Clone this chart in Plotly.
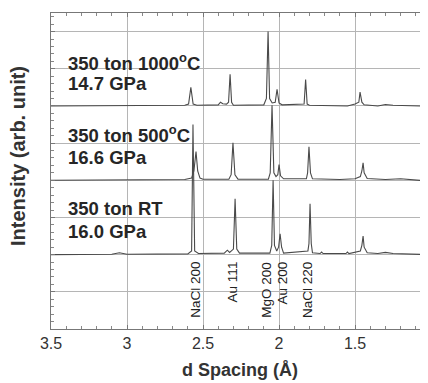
import plotly.graph_objects as go

# ---- data (d spacing in Å, intensity in chart units) ----
d_1000 = [3.50, 2.62, 2.595, 2.58, 2.565, 2.54, 2.40, 2.385, 2.37, 2.345, 2.332, 2.322, 2.312,
          2.30, 2.10, 2.083, 2.072, 2.062, 2.045, 2.025, 2.013, 2.00, 1.98, 1.835, 1.825,
          1.815, 1.80, 1.55, 1.50, 1.475, 1.467, 1.455, 1.44, 1.35, 1.30, 1.25, 1.02]
i_1000 = [6.00, 6.02, 6.05, 6.50, 6.05, 6.02, 6.03, 6.10, 6.06, 6.05, 6.10, 6.85, 6.10,
          6.02, 6.03, 6.20, 8.00, 6.20, 6.08, 6.10, 6.45, 6.08, 6.03, 6.05, 6.71,
          6.05, 6.02, 6.00, 6.05, 6.10, 6.37, 6.10, 6.03, 6.00, 6.04, 6.02, 5.99]

d_500 = [3.50, 3.00, 2.62, 2.575, 2.56, 2.546, 2.535, 2.52, 2.50, 2.33, 2.315, 2.303, 2.29,
         2.27, 2.07, 2.058, 2.046, 2.034, 2.02, 2.008, 2.00, 1.99, 1.97, 1.82, 1.812,
         1.803, 1.793, 1.78, 1.60, 1.50, 1.465, 1.455, 1.447, 1.44, 1.42, 1.30, 1.20, 1.02]
i_500 = [4.00, 4.02, 4.02, 4.06, 4.25, 4.77, 4.25, 4.06, 4.03, 4.03, 4.15, 5.01, 4.15,
         4.03, 4.03, 4.20, 6.02, 4.20, 4.10, 4.15, 4.42, 4.12, 4.04, 4.04, 4.20,
         4.90, 4.20, 4.04, 4.02, 4.04, 4.10, 4.25, 4.47, 4.20, 4.05, 4.02, 4.04, 3.98]

d_rt = [3.50, 3.10, 3.05, 3.00, 2.60, 2.575, 2.566, 2.555, 2.53, 2.36, 2.34, 2.325, 2.30,
        2.289, 2.278, 2.26, 2.06, 2.048, 2.039, 2.030, 2.015, 2.003, 1.993, 1.983, 1.97,
        1.81, 1.803, 1.796, 1.788, 1.78, 1.73, 1.72, 1.71, 1.56, 1.55, 1.54, 1.465, 1.455,
        1.447, 1.44, 1.42, 1.35, 1.30, 1.25, 1.02]
i_rt = [2.00, 2.01, 2.05, 2.01, 2.02, 2.10, 5.50, 2.10, 2.03, 2.04, 2.12, 2.06, 2.15,
        3.50, 2.15, 2.04, 2.04, 2.25, 4.00, 2.25, 2.10, 2.20, 2.56, 2.20, 2.04,
        2.10, 2.30, 3.37, 2.30, 2.05, 2.03, 2.07, 2.03, 2.03, 2.07, 2.03, 2.10, 2.25,
        2.50, 2.20, 2.05, 2.03, 2.06, 2.03, 2.00]

peak_labels = ["NaCl 200", "Au 111", "MgO 200", "Au 200", "NaCl 220"]
peak_label_d = [2.546, 2.309, 2.079, 1.980, 1.809]

sample_lines = [["350 ton 1000<sup>o</sup>C", "14.7 GPa"],
                ["350 ton 500<sup>o</sup>C", "16.6 GPa"],
                ["350 ton RT", "16.0 GPa"]]
sample_line_y = [[7.17, 6.60], [5.24, 4.62], [3.24, 2.62]]

FONT = "Liberation Sans"
LINE = "#4a4a4a"

fig = go.Figure()
for d, i in [(d_1000, i_1000), (d_500, i_500), (d_rt, i_rt)]:
    fig.add_trace(go.Scatter(x=d, y=i, mode="lines",
                             line=dict(color=LINE, width=1.1), showlegend=False))

ann = []
for lab, dx in zip(peak_labels, peak_label_d):
    ann.append(dict(x=dx, y=1.86, xref="x", yref="y", text=lab, textangle=-90,
                    showarrow=False, xanchor="center", yanchor="top",
                    font=dict(family=FONT, size=13.5, color="#222")))
for lines, ys in zip(sample_lines, sample_line_y):
    for t, yy in zip(lines, ys):
        ann.append(dict(x=3.40, y=yy, xref="x", yref="y", text="<b>" + t + "</b>",
                        showarrow=False, xanchor="left", yanchor="middle",
                        font=dict(family=FONT, size=18.5, color="#262626")))
ann.append(dict(x=-0.088, y=0.547, xref="paper", yref="paper",
                text="<b>Intensity (arb. unit)</b>", textangle=-90, showarrow=False,
                xanchor="center", yanchor="middle",
                font=dict(family=FONT, size=20, color="#333")))
ann.append(dict(x=0.501, y=-0.13, xref="paper", yref="paper",
                text="<b>d Spacing (Å)</b>", showarrow=False,
                xanchor="center", yanchor="middle",
                font=dict(family=FONT, size=18, color="#333")))

fig.update_layout(
    width=420, height=375,
    margin=dict(l=43, r=0, t=5, b=54),
    paper_bgcolor="white", plot_bgcolor="white",
    annotations=ann,
    xaxis=dict(range=[3.5, 1.02], dtick=0.5, tick0=1.0, showgrid=True,
               gridcolor="#b5b5b5", gridwidth=1, zeroline=False,
               showline=True, linecolor="#777", linewidth=1, mirror="allticks",
               ticks="inside", ticklen=4, tickcolor="#777",
               minor=dict(dtick=0.1, ticks="inside", ticklen=3, tickcolor="#888"),
               tickfont=dict(family=FONT, size=16, color="#333")),
    yaxis=dict(range=[0, 8.5], dtick=1, tick0=0, showgrid=True,
               gridcolor="#b5b5b5", gridwidth=1, zeroline=False,
               showline=True, linecolor="#777", linewidth=1, mirror="ticks",
               ticks="inside", ticklen=4, tickcolor="#777", showticklabels=False,
               minor=dict(dtick=0.2, ticks="inside", ticklen=3, tickcolor="#888")),
)
fig.write_html("out.html")
